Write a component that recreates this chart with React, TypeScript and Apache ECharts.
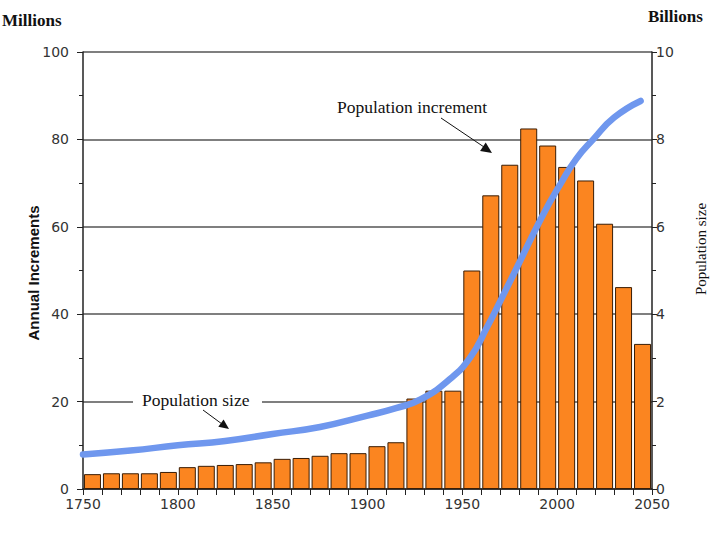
import React, { useEffect, useRef } from "react";
import * as echarts from "echarts";

const decadeStarts = [1750,1760,1770,1780,1790,1800,1810,1820,1830,1840,1850,1860,1870,1880,1890,1900,1910,1920,1930,1940,1950,1960,1970,1980,1990,2000,2010,2020,2030,2040];
const increments = [3.4,3.6,3.6,3.6,3.9,5.0,5.3,5.5,5.7,6.1,6.9,7.1,7.6,8.2,8.2,9.8,10.7,20.7,22.5,22.5,50.0,67.2,74.2,82.5,78.6,73.7,70.6,60.7,46.2,33.2];

const popYears = [1750,1775,1800,1825,1850,1875,1900,1915,1928,1943,1954,1963,1970,1978,1992,2002,2010,2019,2030,2044];
const popBillions = [0.79,0.88,1.0,1.1,1.26,1.42,1.68,1.85,2.05,2.5,3.0,3.7,4.3,5.0,6.23,7.0,7.55,8.0,8.5,8.88];

const xTicks = [1750, 2050, 50];
const leftTicks = [0, 100, 20];
const rightTicks = [0, 10, 2];

export default function App() {
  const ref = useRef<HTMLDivElement>(null);
  useEffect(() => {
    if (!ref.current) return;
    const chart = echarts.init(ref.current, null, { renderer: "svg" });
    const labelFont = { fontFamily: "DejaVu Sans", fontSize: 14, color: "#333" };
    chart.setOption({
      animation: false,
      backgroundColor: "#ffffff",
      grid: { left: 83, right: 67, top: 52, bottom: 50 },
      xAxis: {
        type: "value",
        min: xTicks[0],
        max: xTicks[1],
        interval: xTicks[2],
        axisLine: { show: true, onZero: false, lineStyle: { color: "#222", width: 1.5 } },
        axisTick: { show: true, length: 6, lineStyle: { color: "#222" } },
        minorTick: { show: true, splitNumber: 5, length: 6, lineStyle: { color: "#222" } },
        splitLine: { show: false },
        axisLabel: { ...labelFont, margin: 8, formatter: (v: number) => String(v) },
      },
      yAxis: [
        {
          type: "value",
          min: leftTicks[0],
          max: leftTicks[1],
          interval: leftTicks[2],
          axisLine: { show: true, lineStyle: { color: "#222", width: 1.5 } },
          axisTick: { show: true, length: 6, lineStyle: { color: "#222" } },
          minorTick: { show: true, splitNumber: 2, length: 4, lineStyle: { color: "#222" } },
          splitLine: { show: true, lineStyle: { color: "#555", width: 1.5 } },
          axisLabel: { ...labelFont, margin: 14 },
        },
        {
          type: "value",
          min: rightTicks[0],
          max: rightTicks[1],
          interval: rightTicks[2],
          position: "right",
          axisLine: { show: true, lineStyle: { color: "#222", width: 1.5 } },
          axisTick: { show: true, length: 5, lineStyle: { color: "#222" } },
          minorTick: { show: true, splitNumber: 2, length: 4, lineStyle: { color: "#222" } },
          splitLine: { show: false },
          axisLabel: { ...labelFont, margin: 4 },
        },
      ],
      series: [
        {
          type: "bar",
          yAxisIndex: 0,
          barWidth: 17,
          data: decadeStarts.map((y, i) => [y + 5, increments[i]]),
          itemStyle: { color: "#fb8520", borderColor: "#3a1d05", borderWidth: 1 },
          z: 3,
        },
        {
          type: "line",
          yAxisIndex: 1,
          smooth: true,
          showSymbol: false,
          data: popYears.map((y, i) => [y, popBillions[i]]),
          lineStyle: { color: "#6f97ee", width: 6.5, cap: "round" },
          z: 5,
        },
      ],
      graphic: [
        { type: "text", left: 2, top: 12, style: { text: "Millions", font: "bold 17px 'Liberation Serif'", fill: "#111" } },
        { type: "text", left: 648, top: 8, style: { text: "Billions", font: "bold 17px 'Liberation Serif'", fill: "#111" } },
        {
          type: "text", x: 33, y: 273, rotation: Math.PI / 2,
          style: { text: "Annual Increments", font: "bold 15px 'Liberation Sans'", fill: "#111", align: "center", verticalAlign: "middle" },
        },
        {
          type: "text", x: 701, y: 249, rotation: Math.PI / 2,
          style: { text: "Population size", font: "15px 'Liberation Serif'", fill: "#111", align: "center", verticalAlign: "middle" },
        },
        { type: "rect", shape: { x: 133, y: 391, width: 129, height: 18 }, style: { fill: "#ffffff" }, z: 10 },
        { type: "text", x: 142, y: 400, z: 11, style: { text: "Population size", font: "17.5px 'Liberation Serif'", fill: "#111", verticalAlign: "middle" } },
        { type: "line", z: 11, shape: { x1: 203, y1: 410, x2: 222, y2: 424 }, style: { stroke: "#111", lineWidth: 1 } },
        { type: "polygon", z: 11, shape: { points: [[229, 429], [218.3, 426.7], [223.6, 419.5]] }, style: { fill: "#111" } },
        { type: "text", x: 337, y: 107, z: 11, style: { text: "Population increment", font: "17.5px 'Liberation Serif'", fill: "#111", verticalAlign: "middle" } },
        { type: "line", z: 11, shape: { x1: 441, y1: 118, x2: 484, y2: 147 }, style: { stroke: "#111", lineWidth: 1 } },
        { type: "polygon", z: 11, shape: { points: [[492, 153], [480.1, 151], [485.7, 142.6]] }, style: { fill: "#111" } },
      ],
    });
    return () => chart.dispose();
  }, []);
  return <div ref={ref} style={{ width: 719, height: 539, position: "fixed", left: 0, top: 0 }} />;
}
